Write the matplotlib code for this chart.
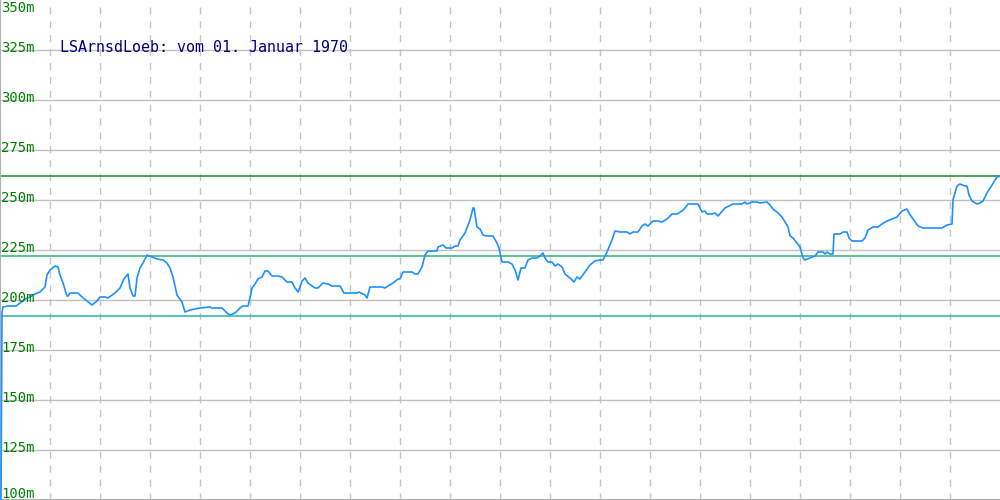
import matplotlib
matplotlib.use("Agg")
import matplotlib.pyplot as plt
import numpy as np

# Streckenprofil: Position (Pixel-Skala 0..1000) und Hoehe in m
pos = [1, 2, 3, 8, 16, 20, 25, 30, 35, 40, 45, 47, 50, 55, 58, 60, 63, 67, 68, 70,
       78, 82, 87, 92, 97, 100, 105, 108, 115, 120, 124, 128, 130, 133, 135, 137, 140, 143, 147, 152,
       157, 163, 167, 170, 173, 177, 182, 185, 190, 195, 200,
       210, 212, 222, 227, 230, 235, 240, 243, 248, 250, 252, 255, 258, 262, 265, 268, 272, 278, 282,
       287, 292, 295, 298, 300, 302, 305, 308, 315, 318, 323, 328, 332, 340, 344, 357, 359, 365, 367, 370,
       382, 385, 388, 393, 398, 400,
       403, 412, 415, 418, 422, 425, 428, 437, 438, 443, 446, 452, 455, 458, 460, 465, 470, 473, 474, 477,
       480, 483, 487, 493, 497, 499, 502, 508, 512, 515, 518, 521, 525, 528, 532, 537, 540, 543, 545, 548,
       552, 555, 558, 562, 565, 570, 574, 577, 580, 585, 590, 595, 600,
       603, 607, 612, 615, 620, 627, 630, 633, 638, 642, 645, 648, 653, 658, 662, 667, 672, 677, 682, 685,
       688, 698, 702, 705, 707, 712, 715, 718, 725, 733, 742, 745, 747, 752, 757, 760, 767, 770, 773, 778,
       782, 785, 788, 790, 793, 797, 800,
       803, 805, 810, 815, 818, 823, 825, 827, 830, 833, 834, 840, 843, 847, 849, 852, 862, 865, 868, 873,
       878, 882, 887, 892, 897, 902, 907, 909, 913, 918, 923, 942, 947, 952, 953, 957, 960, 965, 967, 969,
       972, 977, 980, 983, 987, 992, 997, 1000]
hoehe = [100, 194, 196.5, 197, 197, 198.5, 200.5, 201.5, 203, 204, 206.5, 212.5, 215, 217, 216.5, 212.5, 208.5, 202, 202, 203.5,
         203.5, 201.5, 199.5, 197.5, 199.5, 201.5, 201.5, 201, 203.5, 206, 210.5, 213, 206, 202, 202, 211, 216, 218.5, 222.5, 221.5,
         220.5, 220, 218.5, 216, 211.5, 202.5, 199, 194, 195, 195.5, 196,
         196.5, 196, 196, 193.5, 192.5, 193.5, 196, 197, 197, 201, 206, 208, 210.5, 211.5, 214.5, 214.5, 212, 212, 211.5,
         209, 209, 206, 204, 206.5, 209.5, 211, 208.5, 206, 206, 208.5, 208, 207, 207, 203.5, 203.5, 204, 202.5, 201, 206.5,
         206.5, 206, 207, 208.5, 210.5, 210.5,
         214, 214, 213, 213, 216.5, 222.5, 224.5, 224.5, 226.5, 227.5, 226, 226, 227, 227, 230, 233.5, 240, 246, 246, 236.5,
         235.5, 232.5, 232, 232, 228.5, 226, 219, 219, 218, 215, 210, 216, 216, 220, 221, 221, 222, 223.5, 221, 219,
         219, 217, 218, 216.5, 213, 211, 209, 211.5, 210.5, 214, 217.5, 219.5, 220,
         220, 224, 230, 234.5, 234, 234, 233, 234, 234, 237, 238, 237, 239.5, 239.5, 239, 240.5, 243, 243, 244.5, 246,
         248, 248, 244, 244.5, 243, 243, 243.5, 242, 246, 248, 248, 249, 248, 249, 249, 248.5, 249, 247.5, 245.5, 243.5,
         241.5, 239, 236.5, 232, 231, 228.5, 226.5,
         221, 220, 221, 222, 224, 224, 223, 224, 223, 223, 233, 233, 234, 234, 231, 229.5, 229.5, 231, 235, 236.5,
         236.5, 238, 239.5, 240.5, 241.5, 244.5, 245.5, 243.5, 240.5, 237, 236, 236, 237.5, 238, 250, 257, 258, 257, 257, 252.5,
         249.5, 248, 248.5, 249.5, 253.5, 257.5, 261.5, 262]

# Referenzlinien (max, mittel, min)
ref_werte = [262, 222, 192]
ref_farben = ['#1a8c1a', '#33b36b', '#1fb5ad']

y_ticks = [100, 125, 150, 175, 200, 225, 250, 275, 300, 325, 350]
titel = "LSArnsdLoeb: vom 01. Januar 1970"

fig = plt.figure(figsize=(10, 5), dpi=100)
ax = fig.add_axes([0, 0, 1, 1])
ax.set_xlim(0, 1000)
ax.set_ylim(100, 350)

# Gitter
for yt in y_ticks[1:-1]:
    ax.axhline(yt, color='#c0c0c0', lw=1.0, zorder=1)
for xv in range(50, 1000, 50):
    ax.axvline(xv, color='#c4c4c4', lw=1.0, ls=(0, (5, 5)), zorder=1)

for w, c in zip(ref_werte, ref_farben):
    ax.axhline(w, color=c, lw=1.1, zorder=2)

ax.plot(pos, hoehe, color='#1e90ff', lw=1.2, zorder=3)

# Achsenbeschriftung innen links
for yt in y_ticks:
    yy = yt + 1
    if yt == 350:
        yy = 346
    elif yt == 100:
        yy = 103
    ax.text(1, yy, "%dm" % yt, color='#008000', fontsize=10,
            family='DejaVu Sans Mono', va='center', ha='left', zorder=4)

ax.text(60, 326, titel, color='#000080', fontsize=10.8, family='DejaVu Sans Mono',
        va='center', ha='left', zorder=4)

ax.set_xticks([])
ax.set_yticks([])
for s in ['top', 'right']:
    ax.spines[s].set_visible(False)
for s in ['left', 'bottom']:
    ax.spines[s].set_color('#b0b0b0')
    ax.spines[s].set_linewidth(1.5)

fig.savefig('out.png', dpi=100)
